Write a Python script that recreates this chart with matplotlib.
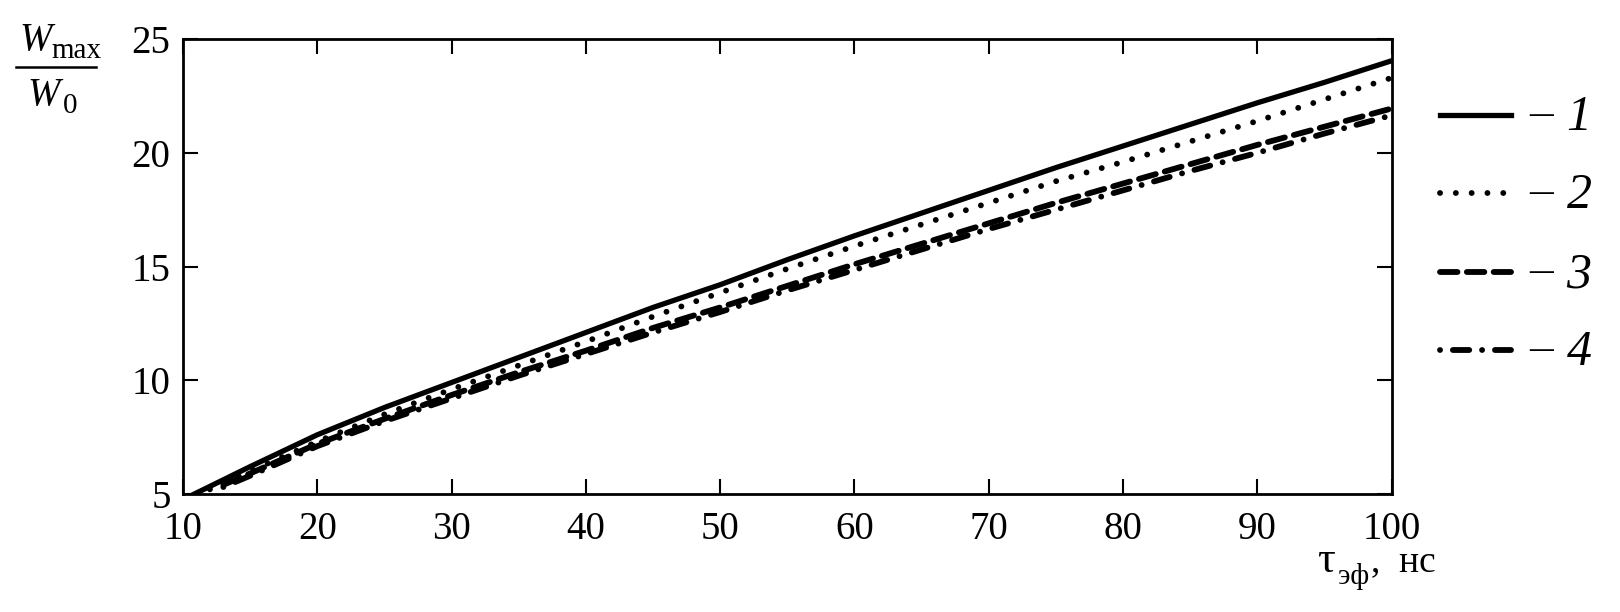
import numpy as np
import matplotlib
matplotlib.use("Agg")
import matplotlib.pyplot as plt
from matplotlib.lines import Line2D

plt.rcParams['font.family'] = ['Liberation Serif', 'DejaVu Serif']
plt.rcParams['mathtext.fontset'] = 'custom'
plt.rcParams['mathtext.rm'] = 'Liberation Serif'
plt.rcParams['mathtext.it'] = 'Liberation Serif:italic'

# Curve data (tau_ef, ns -> Wmax/W0)
tau_1 = [10, 15, 20, 25, 30, 35, 40, 45, 50, 55, 60, 65, 70, 75, 80, 85, 90, 95, 100]
w_1 = [4.75, 6.2, 7.6, 8.8, 9.9, 11.0, 12.1, 13.2, 14.2, 15.3, 16.35, 17.35, 18.35,
       19.35, 20.3, 21.25, 22.2, 23.1, 24.05]

tau_2 = [12, 15, 20, 25, 30, 35, 40, 45, 50, 55, 60, 65, 70, 75, 80, 85, 90, 95, 100]
w_2 = [5.2, 6.0, 7.3, 8.5, 9.6, 10.65, 11.7, 12.8, 13.85, 14.9, 15.9, 16.85, 17.8,
       18.75, 19.6, 20.5, 21.4, 22.35, 23.3]

tau_3 = [13, 15, 20, 25, 30, 35, 40, 45, 50, 55, 60, 65, 70, 75, 80, 85, 90, 95, 100]
w_3 = [5.4, 5.9, 7.2, 8.3, 9.35, 10.35, 11.3, 12.3, 13.2, 14.15, 15.1, 16.0, 16.9,
       17.8, 18.65, 19.5, 20.35, 21.15, 21.95]

tau_4 = [13, 15, 20, 25, 30, 35, 40, 45, 50, 55, 60, 65, 70, 75, 80, 85, 90, 95, 100]
w_4 = [5.3, 5.8, 7.1, 8.2, 9.2, 10.2, 11.15, 12.1, 13.0, 13.95, 14.85, 15.75, 16.65,
       17.5, 18.35, 19.2, 20.0, 20.85, 21.65]

x_ticks = [10, 20, 30, 40, 50, 60, 70, 80, 90, 100]
y_ticks = [5, 10, 15, 20, 25]
legend_labels = ['1', '2', '3', '4']

fig = plt.figure(figsize=(16.2, 6.12), dpi=100)
ax = fig.add_axes([0.113, 0.193, 0.746, 0.743])

styles = [
    dict(linestyle='-', linewidth=3.8),
    dict(linestyle=(0, (0.01, 2.7)), linewidth=4.2, dash_capstyle='round'),
    dict(linestyle=(0, (3.0, 1.6)), linewidth=4.2, dash_capstyle='round'),
    dict(linestyle=(0, (0.01, 2.2, 2.8, 2.2)), linewidth=4.2, dash_capstyle='round'),
]

curves = [(tau_1, w_1), (tau_2, w_2), (tau_3, w_3), (tau_4, w_4)]
for (xs, ys), st in zip(curves, styles):
    ax.plot(xs, ys, color='black', **st)

ax.set_xlim(10, 100)
ax.set_ylim(5, 25)
ax.set_xticks(x_ticks)
ax.set_yticks(y_ticks)
ax.tick_params(direction='in', length=11, width=1.5, top=True, right=True,
               labelsize=28)
ax.tick_params(axis='x', pad=12)
ax.tick_params(axis='y', pad=9)
for sp in ax.spines.values():
    sp.set_linewidth(2.0)

# legend on the right, drawn by hand in figure coordinates
row_y = [0.812, 0.685, 0.556, 0.428]
for yy, st, lab in zip(row_y, styles, legend_labels):
    fig.add_artist(Line2D([0.889, 0.933], [yy, yy], color='black', **st))
    fig.text(0.944, yy, '\u2013', fontsize=34, ha='left', va='center')
    fig.text(0.967, yy - 0.005, lab, fontsize=36, style='italic', ha='left', va='center')

# y label: Wmax / W0 as a fraction
fig.text(0.023, 0.918, r'$W$', fontsize=28, ha='center', va='baseline')
fig.text(0.032, 0.905, 'max', fontsize=21, ha='left', va='baseline')
fig.add_artist(Line2D([0.010, 0.059], [0.890, 0.890], color='black', linewidth=1.8))
fig.text(0.028, 0.828, r'$W$', fontsize=28, ha='center', va='baseline')
fig.text(0.039, 0.815, '0', fontsize=21, ha='left', va='baseline')

# x label
fig.text(0.813, 0.066, '\u03c4', fontsize=32, ha='left', va='baseline')
fig.text(0.826, 0.045, 'эф', fontsize=21, ha='left', va='baseline')
fig.text(0.846, 0.066, ',  нс', fontsize=27, ha='left', va='baseline')

fig.savefig('out.png', dpi=100)
